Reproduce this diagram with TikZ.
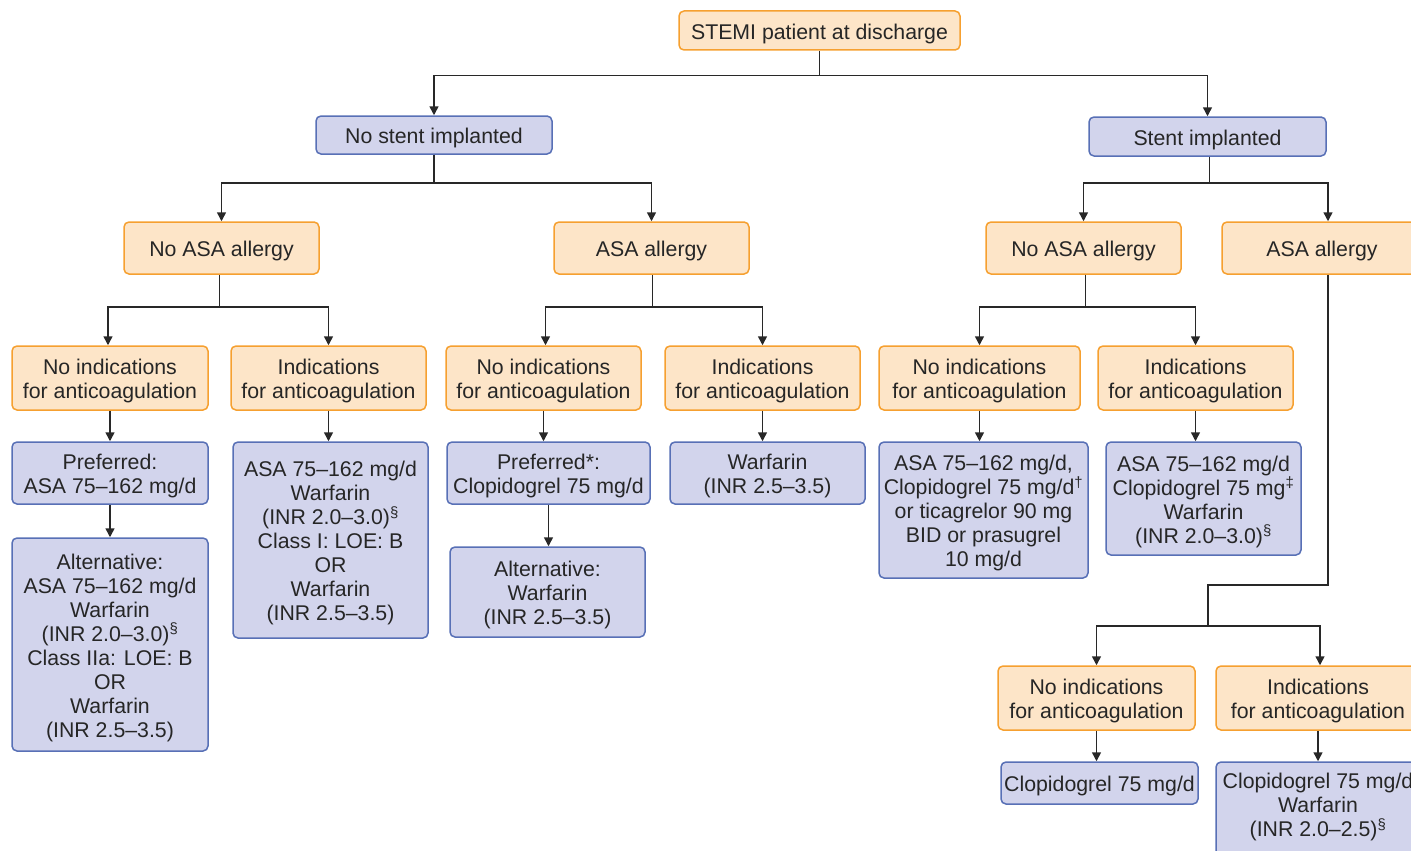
\documentclass[tikz,border=0pt]{standalone}
\usepackage{fontspec}
\setmainfont{Liberation Sans}
\usetikzlibrary{arrows.meta}

\definecolor{peach}{RGB}{253,229,200}
\definecolor{peachline}{RGB}{246,160,48}
\definecolor{lilac}{RGB}{210,212,236}
\definecolor{lilacline}{RGB}{88,112,182}
\definecolor{wirecol}{RGB}{40,40,40}

% taller first line, so the text sits a bit lower in its box
\newcommand{\hd}{\rule{0pt}{21.5pt}}

\tikzset{
  box/.style={rounded corners=5pt, line width=1.5pt, align=center, inner sep=0pt,
    font=\fontsize{21.3}{24}\selectfont, text=black!85},
  question/.style={box, draw=peachline, fill=peach},
  therapy/.style={box, draw=lilacline, fill=lilac},
  boxdim/.style 2 args={minimum width=#1pt, minimum height=#2pt},
  wire/.style={line width=1.5pt, draw=wirecol},
  arr/.style={wire, -{Triangle[length=9pt,width=9pt]}},
}

\begin{document}
\begin{tikzpicture}[x=1pt, y=-1pt]
  \useasboundingbox (0,0) rectangle (1411,851);

  % top of the tree
  \node[question, boxdim={281}{39}] (root) at (819.5,30.5) {\hd STEMI patient at discharge};
  \node[therapy, boxdim={236}{38}] (nostent) at (434,135) {\hd No stent implanted};
  \node[therapy, boxdim={237}{39}] (stent) at (1207.5,136.5) {\hd Stent implanted};

  \draw[wire] (root.south) -- ++(0,25) coordinate (rootbus);
  \draw[arr] (rootbus) -| (nostent.north);
  \draw[arr] (rootbus) -| (stent.north);

  % allergy level
  \node[question, boxdim={195}{52}] (nsNoAllergy) at (221.5,248) {\hd No ASA allergy};
  \node[question, boxdim={195}{52}] (nsAllergy) at (651.5,248) {\hd ASA allergy};
  \node[question, boxdim={195}{52}] (sNoAllergy) at (1083.5,248) {\hd No ASA allergy};
  \node[question, boxdim={200}{52}] (sAllergy) at (1322,248) {\hd ASA allergy};

  \draw[wire] (nostent.south) -- ++(0,28) coordinate (nsbus);
  \draw[arr] (nsbus) -| (nsNoAllergy.north);
  \draw[arr] (nsbus) -| (nsAllergy.north);
  \draw[wire] ([xshift=2pt]stent.south) -- ++(0,26) coordinate (sbus);
  \draw[arr] (sbus) -| (sNoAllergy.north);
  \draw[arr] (sbus) -| ([xshift=6pt]sAllergy.north);

  % anticoagulation level
  \node[question, boxdim={196}{64}] (nsNaNoInd) at (110,378) {\hd No indications\\for anticoagulation};
  \node[question, boxdim={195}{64}] (nsNaInd) at (328.5,378) {\hd Indications\\for anticoagulation};
  \node[question, boxdim={195}{64}] (nsAlNoInd) at (543.5,378) {\hd No indications\\for anticoagulation};
  \node[question, boxdim={195}{64}] (nsAlInd) at (762.5,378) {\hd Indications\\for anticoagulation};
  \node[question, boxdim={201}{64}] (sNaNoInd) at (979.5,378) {\hd No indications\\for anticoagulation};
  \node[question, boxdim={195}{64}] (sNaInd) at (1195.5,378) {\hd Indications\\for anticoagulation};
  \node[question, boxdim={197}{64}] (sAlNoInd) at (1096.5,698) {\hd No indications\\for anticoagulation};
  \node[question, boxdim={204}{64}] (sAlInd) at (1318,698) {\hd Indications\\for anticoagulation};

  \draw[wire] ([xshift=-2pt]nsNoAllergy.south) -- ++(0,32) coordinate (nsNaBus);
  \draw[arr] (nsNaBus) -| ([xshift=-2pt]nsNaNoInd.north);
  \draw[arr] (nsNaBus) -| (nsNaInd.north);
  \draw[wire] ([xshift=1pt]nsAllergy.south) -- ++(0,32) coordinate (nsAlBus);
  \draw[arr] (nsAlBus) -| ([xshift=2pt]nsAlNoInd.north);
  \draw[arr] (nsAlBus) -| (nsAlInd.north);
  \draw[wire] ([xshift=2pt]sNoAllergy.south) -- ++(0,32) coordinate (sNaBus);
  \draw[arr] (sNaBus) -| (sNaNoInd.north);
  \draw[arr] (sNaBus) -| (sNaInd.north);
  \draw[wire] ([xshift=6pt]sAllergy.south) |- (1208,585) -- (1208,626) coordinate (sAlBus);
  \draw[arr] (sAlBus) -| (sAlNoInd.north);
  \draw[arr] (sAlBus) -| ([xshift=2pt]sAlInd.north);

  % therapies
  \node[therapy, boxdim={196}{62}] (nsNaPref) at (110,473) {\hd Preferred:\\ASA 75--162 mg/d};
  \node[therapy, boxdim={196}{213}] (nsNaAlt) at (110,644.5)
    {\hd Alternative:\\ASA 75--162 mg/d\\Warfarin\\(INR 2.0--3.0)\textsuperscript{\S}\\Class IIa: LOE: B\\OR\\Warfarin\\(INR 2.5--3.5)};
  \node[therapy, boxdim={195}{196}] (nsNaTher) at (330.5,540)
    {\hd ASA 75--162 mg/d\\Warfarin\\(INR 2.0--3.0)\textsuperscript{\S}\\Class I: LOE: B\\OR\\Warfarin\\(INR 2.5--3.5)};
  \node[therapy, boxdim={203}{62}] (nsAlPref) at (548.5,473) {\hd Preferred*:\\Clopidogrel 75 mg/d};
  \node[therapy, boxdim={195}{90}] (nsAlAlt) at (547.5,592) {\hd Alternative:\\Warfarin\\(INR 2.5--3.5)};
  \node[therapy, boxdim={195}{62}] (nsAlTher) at (767.5,473) {\hd Warfarin\\(INR 2.5--3.5)};
  \node[therapy, boxdim={209}{136}] (sNaPref) at (983.5,510)
    {\hd ASA 75--162 mg/d,\\Clopidogrel 75 mg/d\textsuperscript{\dag}\\or ticagrelor 90 mg\\BID or prasugrel\\10 mg/d};
  \node[therapy, boxdim={195}{113}] (sNaTher) at (1203.5,498.5)
    {\hd ASA 75--162 mg/d\\Clopidogrel 75 mg\textsuperscript{\ddag}\\Warfarin\\(INR 2.0--3.0)\textsuperscript{\S}};
  \node[therapy, boxdim={197}{42}] (sAlPref) at (1099.5,783) {\hd Clopidogrel 75 mg/d};
  % runs off the page at the bottom
  \node[therapy, boxdim={204}{100}] (sAlTher) at (1318,812)
    {\hd Clopidogrel 75 mg/d\\Warfarin\\(INR 2.0--2.5)\textsuperscript{\S}\rule[-20pt]{0pt}{0pt}};

  \foreach \from/\to in {nsNaNoInd/nsNaPref, nsNaPref/nsNaAlt, nsNaInd/nsNaTher,
      nsAlNoInd/nsAlPref, nsAlPref/nsAlAlt, nsAlInd/nsAlTher,
      sNaNoInd/sNaPref, sNaInd/sNaTher, sAlNoInd/sAlPref, sAlInd/sAlTher}
    \draw[arr] (\from.south) -- (\from.south |- \to.north);

\end{tikzpicture}
\end{document}
